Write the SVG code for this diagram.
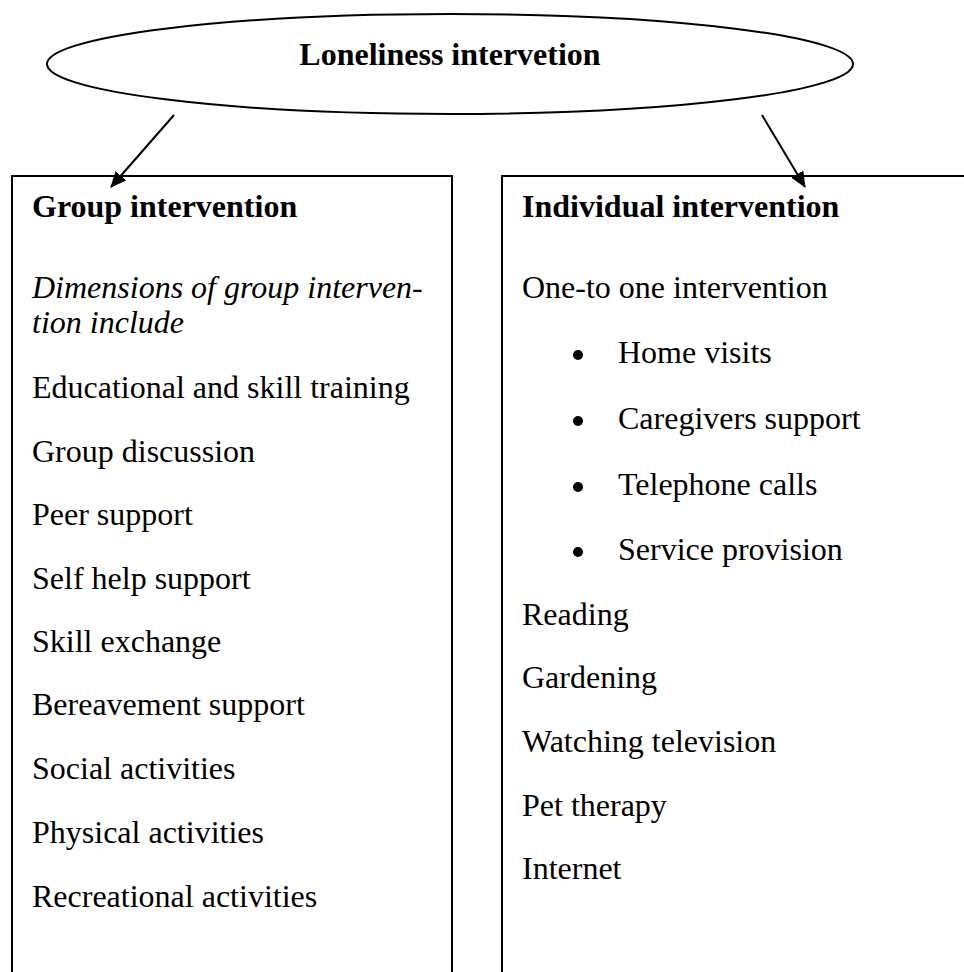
<svg xmlns="http://www.w3.org/2000/svg" width="964" height="972" viewBox="0 0 964 972">
<defs>
<style>
text{font-family:"Liberation Serif","Times New Roman",serif;font-size:32px;fill:#000}
.b{font-weight:bold}
.i{font-style:italic}
.ln{fill:none;stroke:#000;stroke-width:2}
.bul{fill:#000}
</style>
<marker id="ah" markerWidth="16" markerHeight="14" refX="15" refY="7" orient="auto" markerUnits="userSpaceOnUse">
<path d="M0,0 L16,7 L0,14 Z" fill="#000"/>
</marker>
</defs>
<rect width="964" height="972" fill="#fff"/>
<g id="root">
<ellipse class="ln" cx="450" cy="64" rx="403" ry="50"/>
<text class="b" x="450" y="65" text-anchor="middle">Loneliness intervetion</text>
</g>
<g id="group">
<path class="ln" d="M12,972 V176 H452 V972"/>
<text class="b" x="32" y="217">Group intervention</text>
<text class="i" x="32" y="298">Dimensions of group interven-</text>
<text class="i" x="32" y="333">tion include</text>
<text x="32" y="398">Educational and skill training</text>
<text x="32" y="462">Group discussion</text>
<text x="32" y="525">Peer support</text>
<text x="32" y="589">Self help support</text>
<text x="32" y="652">Skill exchange</text>
<text x="32" y="715">Bereavement support</text>
<text x="32" y="779">Social activities</text>
<text x="32" y="843">Physical activities</text>
<text x="32" y="907">Recreational activities</text>
</g>
<g id="individual">
<path class="ln" d="M502,972 V176 H964"/>
<text class="b" x="522" y="217">Individual intervention</text>
<text x="522" y="298">One-to one intervention</text>
<circle class="bul" cx="578" cy="355" r="5"/>
<text x="618" y="363">Home visits</text>
<circle class="bul" cx="578" cy="421" r="5"/>
<text x="618" y="429">Caregivers support</text>
<circle class="bul" cx="578" cy="487" r="5"/>
<text x="618" y="495">Telephone calls</text>
<circle class="bul" cx="578" cy="552" r="5"/>
<text x="618" y="560">Service provision</text>
<text x="522" y="625">Reading</text>
<text x="522" y="688">Gardening</text>
<text x="522" y="752">Watching television</text>
<text x="522" y="816">Pet therapy</text>
<text x="522" y="879">Internet</text>
</g>
<g id="connectors">
<line class="ln" x1="174" y1="115" x2="111" y2="187" marker-end="url(#ah)"/>
<line class="ln" x1="762" y1="115" x2="805" y2="187" marker-end="url(#ah)"/>
</g>
</svg>
